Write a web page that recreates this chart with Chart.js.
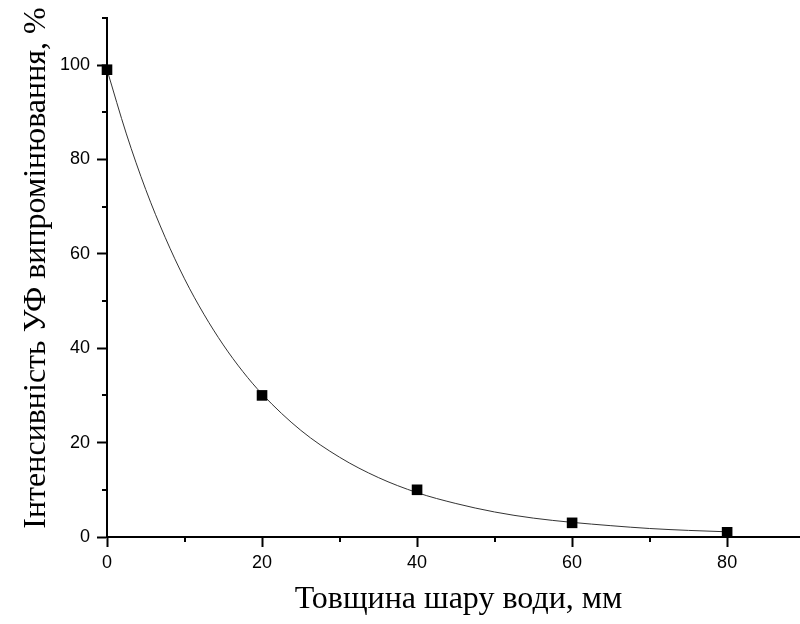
<!DOCTYPE html>
<html>
<head>
<meta charset="utf-8">
<script src="https://cdn.jsdelivr.net/npm/chart.js@4/dist/chart.umd.min.js"></script>
<style>
  html,body{margin:0;padding:0;background:#fff;}
  #wrap{width:800px;height:624px;}
</style>
</head>
<body>
<div id="wrap"><canvas id="c" width="800" height="624"></canvas></div>
<script>
// measured points: water layer thickness (mm) vs UV intensity (%)
const thickness = [0, 20, 40, 60, 80];
const intensity = [99, 30, 10, 3, 1];

// fitted decay curve, sampled along x
const fitX = [0, 2.5, 5, 7.5, 10, 12.5, 15, 17.5, 20, 25, 30, 35, 40, 45, 50, 55, 60, 65, 70, 75, 80];
const fitY = [99, 85.4, 73.6, 63.5, 54.7, 47.2, 40.7, 35.1, 30.3, 22.6, 16.9, 12.6, 9.4, 7.1, 5.3, 4.0, 3.1, 2.4, 1.8, 1.4, 1.1];

// minor tick positions
const xMinor = [10, 30, 50, 70];
const yMinor = [10, 30, 50, 70, 90, 110];

const xTitle = "Товщина шару води, мм";
const yTitle = "Інтенсивність УФ випромінювання, %";

const extras = {
    id: "extras",
    afterDraw(chart) {
        const ctx = chart.ctx;
        const xs = chart.scales.x, ys = chart.scales.y;
        const area = chart.chartArea;
        ctx.save();
        ctx.strokeStyle = "#000";
        ctx.lineWidth = 2;
        xMinor.forEach(v => {
            const px = Math.round(xs.getPixelForValue(v));
            ctx.beginPath();
            ctx.moveTo(px, area.bottom);
            ctx.lineTo(px, area.bottom + 5);
            ctx.stroke();
        });
        yMinor.forEach(v => {
            const py = Math.round(ys.getPixelForValue(v));
            ctx.beginPath();
            ctx.moveTo(area.left - 5, py);
            ctx.lineTo(area.left, py);
            ctx.stroke();
        });

        ctx.fillStyle = "#000";
        ctx.font = "32px 'Liberation Serif'";
        ctx.textAlign = "center";
        ctx.textBaseline = "alphabetic";
        ctx.fillText(xTitle, (area.left + area.right) / 2 + 5, 608);

        ctx.translate(45, 268);
        ctx.rotate(-Math.PI / 2);
        ctx.fillText(yTitle, 0, 0);
        ctx.restore();
    }
};

const tickFont = { family: "'Liberation Sans', Arial", size: 18 };

new Chart(document.getElementById("c"), {
    type: "scatter",
    data: {
        datasets: [
            {
                label: "data",
                data: thickness.map((x, i) => ({ x: x, y: intensity[i] })),
                pointStyle: "rect",
                pointRadius: 7.5,
                pointHoverRadius: 7.5,
                backgroundColor: "#000",
                borderColor: "#000",
                borderWidth: 0,
                clip: false,
                order: 0
            },
            {
                label: "fit",
                type: "line",
                data: fitX.map((x, i) => ({ x: x, y: fitY[i] })),
                borderColor: "#333",
                borderWidth: 1,
                pointRadius: 0,
                cubicInterpolationMode: "monotone",
                fill: false,
                order: 1
            }
        ]
    },
    options: {
        responsive: false,
        animation: false,
        layout: { autoPadding: false, padding: { top: 14, right: 0, left: 0, bottom: 0 } },
        plugins: { legend: { display: false }, tooltip: { enabled: false } },
        scales: {
            x: {
                type: "linear",
                min: 0,
                max: 89.4,
                afterFit: s => { s.height = 87; },
                border: { display: true, color: "#000", width: 2 },
                grid: { drawOnChartArea: false, drawTicks: true, tickLength: 10, tickWidth: 2, tickColor: "#000" },
                ticks: { stepSize: 20, includeBounds: false, color: "#000", font: tickFont, padding: 5, maxRotation: 0 }
            },
            y: {
                type: "linear",
                min: 0,
                max: 110,
                afterFit: s => { s.width = 107; },
                border: { display: true, color: "#000", width: 2 },
                grid: { drawOnChartArea: false, drawTicks: true, tickLength: 10, tickWidth: 2, tickColor: "#000" },
                ticks: { stepSize: 20, includeBounds: false, color: "#000", font: tickFont, padding: 7 }
            }
        }
    },
    plugins: [extras]
});
</script>
</body>
</html>
